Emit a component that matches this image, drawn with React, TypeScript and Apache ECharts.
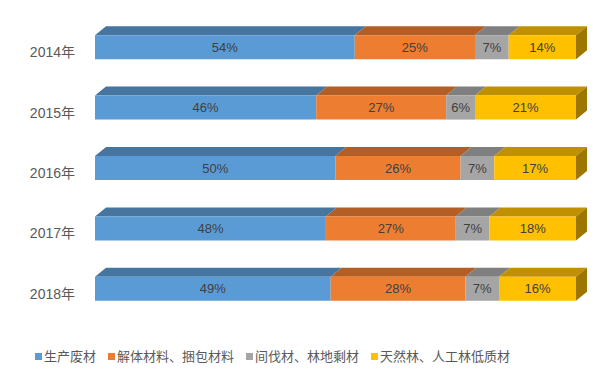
import React, { useEffect, useRef } from "react";
import * as echarts from "echarts";

const years = ["2014年", "2015年", "2016年", "2017年", "2018年"];
const seriesNames = ["生产废材", "解体材料、捆包材料", "间伐材、林地剩材", "天然林、人工林低质材"];
const production = [54, 46, 50, 48, 49];
const packaging = [25, 27, 26, 27, 28];
const thinning = [7, 6, 7, 7, 7];
const lowQuality = [14, 21, 17, 18, 16];

const frontColors = ["#5b9bd5", "#ed7d31", "#a5a5a5", "#ffc000"];
const topColors = ["#46769f", "#b35e25", "#7f7f7f", "#bf9000"];
const sideColor = "#9d7600";
const BAR_H = 24;
const DX = 11;
const DY = 9;

export default function App() {
  const ref = useRef<HTMLDivElement>(null);
  useEffect(() => {
    if (!ref.current) return;
    const chart = echarts.init(ref.current, null, { renderer: "svg" });
    const all = [production, packaging, thinning, lowQuality];
    const faces: number[][] = [];
    years.forEach((_, ci) => {
      let acc = 0;
      all.forEach((arr, si) => {
        faces.push([acc, acc + arr[ci], ci, si]);
        acc += arr[ci];
      });
    });
    const font = "'Liberation Sans', 'Noto Sans CJK SC', sans-serif";
    chart.setOption({
      animation: false,
      grid: { left: 95, right: 33, top: 17, bottom: 56 },
      legend: {
        data: seriesNames,
        left: 30,
        top: 345,
        icon: "rect",
        itemWidth: 7,
        itemHeight: 7,
        itemGap: 12,
        textStyle: { color: "#595959", fontSize: 13, fontFamily: font, padding: [0, 0, 0, -3] },
      },
      xAxis: { type: "value", min: 0, max: 100, show: false },
      yAxis: {
        type: "category",
        data: years,
        inverse: true,
        axisLine: { show: false },
        axisTick: { show: false },
        axisLabel: {
          margin: 20,
          formatter: (v: string) => "{a|" + v + "}",
          rich: {
            a: {
              color: "#595959",
              fontSize: 14,
              fontFamily: font,
              padding: [10, 0, 0, 0],
            },
          },
        },
      },
      series: [
        ...all.map((arr, si) => ({
          type: "bar",
          name: seriesNames[si],
          stack: "total",
          data: arr,
          barWidth: BAR_H,
          itemStyle: { color: frontColors[si] },
          label: {
            show: true,
            position: "inside",
            formatter: "{c}%",
            color: "#404040",
            fontSize: 13,
            fontFamily: font,
          },
        })),
        {
          type: "custom",
          name: "3d",
          data: faces,
          encode: { x: [0, 1], y: 2 },
          silent: true,
          renderItem: (params: any, api: any) => {
            const s = api.value(0);
            const e = api.value(1);
            const cat = api.value(2);
            const si = api.value(3);
            const p0 = api.coord([s, cat]);
            const p1 = api.coord([e, cat]);
            const yt = p0[1] - BAR_H / 2;
            const children: any[] = [
              {
                type: "polygon",
                shape: {
                  points: [
                    [p0[0], yt],
                    [p1[0], yt],
                    [p1[0] + DX, yt - DY],
                    [p0[0] + DX, yt - DY],
                  ],
                },
                style: { fill: topColors[si] },
              },
            ];
            if (si === all.length - 1) {
              children.push({
                type: "polygon",
                shape: {
                  points: [
                    [p1[0], yt],
                    [p1[0] + DX, yt - DY],
                    [p1[0] + DX, yt - DY + BAR_H],
                    [p1[0], yt + BAR_H],
                  ],
                },
                style: { fill: sideColor },
              });
            }
            return { type: "group", children };
          },
        },
      ],
    });
    return () => chart.dispose();
  }, []);
  return (
    <div
      ref={ref}
      style={{ position: "fixed", left: 0, top: 0, width: 609, height: 375, background: "#fff" }}
    />
  );
}
